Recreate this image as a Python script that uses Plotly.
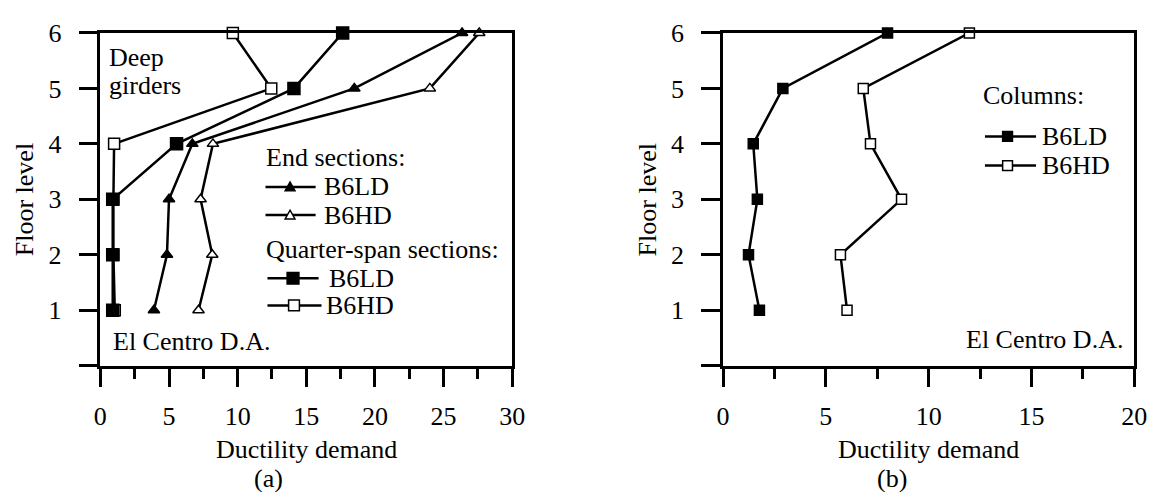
import plotly.graph_objects as go

W, H = 1167, 492

floors = [1, 2, 3, 4, 5, 6]
floor_ticks = [0, 1, 2, 3, 4, 5, 6]
floor_ticktext = ["", "1", "2", "3", "4", "5", "6"]

# Panel (a): beams (deep girders)
end_b6ld = [3.9, 4.85, 5.0, 6.7, 18.5, 26.35]
end_b6hd = [7.15, 8.15, 7.3, 8.2, 24.0, 27.6]
qs_b6ld = [0.9, 0.9, 0.9, 5.55, 14.1, 17.65]
qs_b6hd = [1.05, 0.95, 0.95, 1.0, 12.45, 9.65]

# Panel (b): columns
col_b6ld = [1.77, 1.24, 1.67, 1.47, 2.91, 8.0]
col_b6hd = [6.03, 5.71, 8.68, 7.17, 6.82, 11.98]

xticks_a = [0, 5, 10, 15, 20, 25, 30]
xticks_b = [0, 5, 10, 15, 20]

FONT = "Liberation Serif, Times New Roman, serif"
FS = 26


def px(x):
    return x / W


def py(y):
    return 1 - y / H


fig = go.Figure()

line = dict(color="black", width=2.5)


def add(x, y, symbol, fill, size, xa, ya, name):
    fig.add_trace(go.Scatter(
        x=x, y=y, mode="lines+markers", name=name, xaxis=xa, yaxis=ya,
        line=line, cliponaxis=False, showlegend=False,
        marker=dict(symbol=symbol, size=size, color=fill,
                    line=dict(color="black", width=1.5)),
    ))


add(end_b6hd, floors, "triangle-up", "white", 10, "x", "y", "End B6HD")
add(end_b6ld, floors, "triangle-up", "black", 10, "x", "y", "End B6LD")
add(qs_b6hd, floors, "square", "white", 11, "x", "y", "Quarter B6HD")
add(qs_b6ld, floors, "square", "black", 12, "x", "y", "Quarter B6LD")
add(col_b6hd, floors, "square", "white", 10, "x2", "y2", "Columns B6HD")
add(col_b6ld, floors, "square", "black", 10, "x2", "y2", "Columns B6LD")

ydom = [py(362), py(19.5)]
axis_common = dict(
    showline=True, linecolor="black", linewidth=2.5, mirror=True,
    ticks="outside", ticklen=19, tickwidth=2.5, tickcolor="black",
    showgrid=False, zeroline=False, fixedrange=True,
    tickfont=dict(family=FONT, size=FS, color="black"),
)

fig.update_layout(
    width=W, height=H, autosize=False,
    margin=dict(l=0, r=0, t=0, b=0),
    paper_bgcolor="white", plot_bgcolor="white",
    showlegend=False,
    xaxis=dict(domain=[px(95), px(514)], range=[0, 30], tickvals=xticks_a,
               minor=dict(tickvals=[2.5, 7.5, 12.5, 17.5, 22.5, 27.5], ticklen=11,
                          tickwidth=2.5, tickcolor="black", ticks="outside", showgrid=False),
               ticklabelstandoff=6, anchor="y", **axis_common),
    yaxis=dict(domain=ydom, range=[0, 6], tickvals=floor_ticks, ticktext=floor_ticktext,
               ticklabelstandoff=12, anchor="x", **axis_common),
    xaxis2=dict(domain=[px(728.5), px(1147)], range=[0, 20], tickvals=xticks_b,
                minor=dict(tickvals=[2.5, 7.5, 12.5, 17.5], ticklen=11,
                           tickwidth=2.5, tickcolor="black", ticks="outside", showgrid=False),
                ticklabelstandoff=6, anchor="y2", **axis_common),
    yaxis2=dict(domain=ydom, range=[0, 6], tickvals=floor_ticks, ticktext=floor_ticktext,
                ticklabelstandoff=12, anchor="x2", **axis_common),
)

ann = []


def text(t, x, y, xanchor="left", angle=0):
    ann.append(dict(text=t, x=px(x), y=py(y), xref="paper", yref="paper",
                    xanchor=xanchor, yanchor="middle", showarrow=False, textangle=angle,
                    font=dict(family=FONT, size=FS, color="black")))


# axis titles and captions
text("Ductility demand", 304.5, 448, "center")
text("(a)", 266, 478, "center")
text("Ductility demand", 938, 448, "center")
text("(b)", 900, 478, "center")
text("Floor level", 18, 191, "center", -90)
text("Floor level", 652, 191, "center", -90)

# panel notes
text("Deep", 102, 45)
text("girders", 102, 74)
text("El Centro D.A.", 106, 337)
text("El Centro D.A.", 1138, 335, "right")

# legend (a)
text("End sections:", 261, 148)
text("B6LD", 320, 178)
text("B6HD", 320, 207)
text("Quarter-span sections:", 261, 242)
text("B6LD", 326, 272)
text("B6HD", 323, 300)

# legend (b)
text("Columns:", 991, 84)
text("B6LD", 1051, 126)
text("B6HD", 1051, 156)

fig.update_layout(annotations=ann)

shapes = []


def seg(x0, x1, y):
    shapes.append(dict(type="line", xref="paper", yref="paper",
                       x0=px(x0), x1=px(x1), y0=py(y), y1=py(y),
                       line=dict(color="black", width=2.5)))


def tri(cx, cy, fill):
    p = f"M {px(cx-5)} {py(cy+4)} L {px(cx+5)} {py(cy+4)} L {px(cx)} {py(cy-5)} Z"
    shapes.append(dict(type="path", xref="paper", yref="paper", path=p,
                       fillcolor=fill, line=dict(color="black", width=1.5)))


def sq(cx, cy, s, fill):
    shapes.append(dict(type="rect", xref="paper", yref="paper",
                       x0=px(cx - s / 2), x1=px(cx + s / 2), y0=py(cy + s / 2), y1=py(cy - s / 2),
                       fillcolor=fill, line=dict(color="black", width=1.5)))


seg(263, 314, 178); tri(288, 178, "black")
seg(263, 314, 207); tri(288, 207, "white")
seg(265, 317, 272); sq(291, 272, 12, "black")
seg(265, 320, 300); sq(292, 300, 11, "white")
seg(995, 1047, 126); sq(1018, 126, 10, "black")
seg(995, 1047, 156); sq(1018, 156, 10, "white")

fig.update_layout(shapes=shapes)

fig.write_html("out.html")
